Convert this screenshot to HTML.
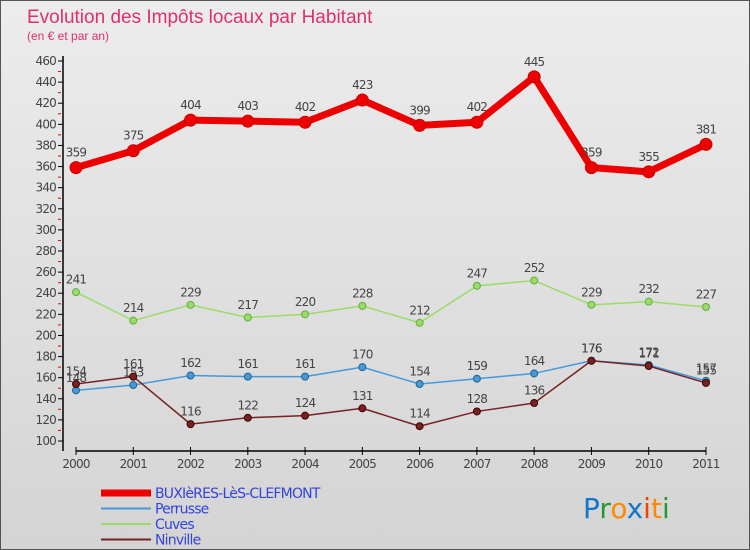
<!DOCTYPE html>
<html><head><meta charset="utf-8"><style>
body{margin:0}
#c{width:750px;height:550px;position:relative;background:linear-gradient(#ececec,#d4d4d4);font-family:"DejaVu Sans","Liberation Sans",sans-serif;box-sizing:border-box;border:1px solid #555;overflow:hidden}
</style></head><body>
<div id="c">
<svg id="s" width="750" height="550" style="position:absolute;left:0;top:0">
<text x="26" y="22" font-size="19" fill="#e0306a" font-family="Liberation Sans">Evolution des Impôts locaux par Habitant</text>
<text x="26" y="39" font-size="12" fill="#e0306a" font-family="Liberation Sans">(en € et par an)</text>
</svg>
</div>
<script>
const years=["2000","2001","2002","2003","2004","2005","2006","2007","2008","2009","2010","2011"];
const buxieres=[359,375,404,403,402,423,399,402,445,359,355,381];
const perrusse=[148,153,162,161,161,170,154,159,164,176,172,157];
const cuves=[241,214,229,217,220,228,212,247,252,229,232,227];
const ninville=[154,161,116,122,124,131,114,128,136,176,171,155];
const yTicks=[100,120,140,160,180,200,220,240,260,280,300,320,340,360,380,400,420,440,460];
const legendNames=["BUXIèRES-LèS-CLEFMONT","Perrusse","Cuves","Ninville"];
const s=document.getElementById('s');const NS="http://www.w3.org/2000/svg";
function X(i){return 75+i*57.27;}
function Y(v){return 440-(v-100)*380/360;}
function mk(t,a,nm){const e=document.createElementNS(NS,t);for(const k in a)e.setAttribute(k,a[k]);
s.appendChild(e);return e;}
mk('line',{x1:62,y1:55,x2:62,y2:450,stroke:'#000','stroke-width':1.5},'y-axis');
yTicks.forEach(v=>{mk('line',{x1:57,y1:Y(v),x2:62,y2:Y(v),stroke:'#000'},'y-tick');
if(v<460)mk('line',{x1:57,y1:Y(v+10),x2:60,y2:Y(v+10),stroke:'#e00'},'y-minor-tick');
const t=mk('text',{x:55,y:Y(v)+4,'font-size':12,'text-anchor':'end',fill:'#444','letter-spacing':'-0.8'},'y-tick-label');t.textContent=v;});
mk('line',{x1:75,y1:450,x2:705,y2:450,stroke:'#000','stroke-width':1.5},'x-axis');
years.forEach((y,i)=>{mk('line',{x1:X(i),y1:446,x2:X(i),y2:454,stroke:'#000'},'x-tick');
const t=mk('text',{x:X(i),y:467,'font-size':12,'text-anchor':'middle',fill:'#444','letter-spacing':'-0.8'},'x-tick-label');t.textContent=y;});
function series(d,col,w,r,nm,dark){
mk('polyline',{points:d.map((v,i)=>X(i)+','+Y(v)).join(' '),fill:'none',stroke:col,'stroke-width':w,'stroke-linejoin':'round'},nm+'-line');
d.forEach((v,i)=>{mk('circle',{cx:X(i),cy:Y(v),r:r,fill:col,stroke:dark,'stroke-width':1},nm+'-point');
const t=mk('text',{x:X(i),y:Y(v)-(r+5),'font-size':12,'text-anchor':'middle',fill:'#444','letter-spacing':'-0.8'},nm+'-value');t.textContent=v;});}
series(cuves,'#99dd66',1.5,3.5,'cuves','#6a4');
series(perrusse,'#4499dd',1.5,3.5,'perrusse','#268');
series(ninville,'#772222',1.5,3.5,'ninville','#400');
series(buxieres,'#ee0000',7,6,'buxieres','#c00');
const lc=['#ee0000','#4499dd','#99dd66','#772222'],lw=[7,2,2,2];
legendNames.forEach((n,i)=>{const y=492+i*15.5;
mk('line',{x1:100,y1:y,x2:150,y2:y,stroke:lc[i],'stroke-width':lw[i]},'legend-swatch');
const t=mk('text',{x:154,y:y+5,'font-size':14,fill:'#3344dd','letter-spacing':'-0.8'},'legend-entry');t.textContent=n;});
const lg=mk('text',{x:582,y:517,'font-size':28,'font-family':'DejaVu Sans'},'proxiti-logo');
[['P','#1177cc'],['r','#229933'],['o','#ff8800'],['x','#1177cc'],['i','#ee4400'],['t','#ff8800'],['i','#229933']].forEach(([c,f])=>{const sp=document.createElementNS(NS,'tspan');sp.setAttribute('fill',f);sp.textContent=c;lg.appendChild(sp);});
</script>
</body></html>
